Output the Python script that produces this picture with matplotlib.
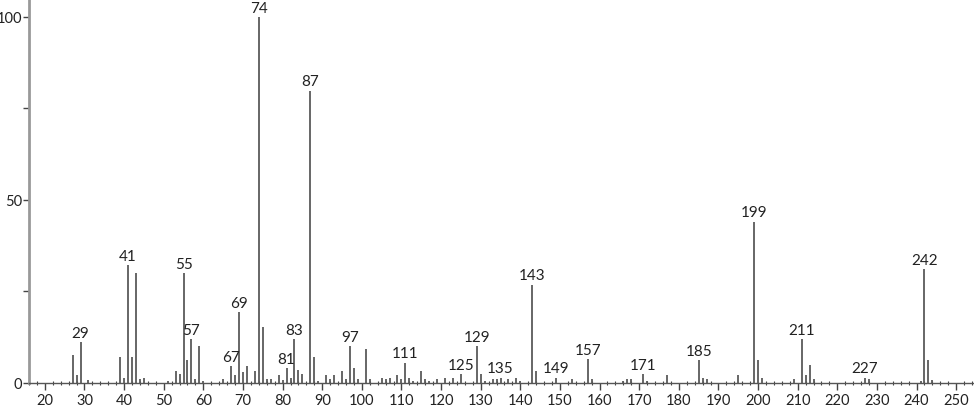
import numpy as np
import matplotlib.pyplot as plt
from matplotlib.ticker import MultipleLocator

plt.rcParams['font.family'] = ['Lato', 'DejaVu Sans']

# m/z and relative intensity
mz = [27, 28, 29, 31, 39, 40, 41, 42, 43, 44, 45, 51, 53, 54, 55, 56, 57, 58, 59, 60,
      65, 67, 68, 69, 70, 71, 73, 74, 75, 76, 77, 79, 80, 81, 82, 83, 84, 85, 87, 88,
      89, 91, 92, 93, 95, 96, 97, 98, 99, 101, 102, 105, 106, 107, 109, 110, 111, 112,
      113, 115, 116, 117, 119, 121, 123, 125, 129, 130, 131, 133, 134, 135, 137, 139,
      140, 143, 144, 149, 153, 157, 158, 166, 167, 168, 171, 172, 177, 185, 186, 187,
      195, 199, 200, 201, 209, 211, 212, 213, 214, 227, 228, 241, 242, 243, 244]
intensity = [7.7, 2.2, 11.3, 0.8, 7.2, 1.5, 32.1, 7.2, 30.0, 1.1, 1.5, 0.5, 3.2, 2.5, 30.0, 6.3, 12.0, 1.1, 10.2, 0.5,
             1.1, 4.6, 2.2, 19.3, 3.0, 4.6, 3.2, 100.0, 15.2, 1.1, 1.1, 2.2, 0.8, 4.1, 1.5, 12.0, 3.6, 2.5, 79.9, 7.2,
             0.5, 2.2, 1.1, 2.2, 3.2, 1.1, 10.0, 4.1, 1.1, 9.3, 1.1, 1.5, 1.1, 1.5, 2.2, 1.1, 5.6, 1.5,
             0.5, 3.2, 1.1, 0.5, 1.1, 1.5, 1.5, 2.5, 10.0, 2.5, 0.5, 1.1, 1.1, 1.5, 1.1, 1.5,
             0.5, 26.9, 3.2, 1.5, 1.1, 6.6, 1.1, 0.5, 1.1, 1.1, 2.5, 0.5, 2.2, 6.3, 1.5, 1.1,
             2.2, 44.1, 6.3, 1.5, 1.1, 12.0, 2.2, 5.0, 1.1, 1.5, 1.1, 0.5, 31.1, 6.3, 0.8]

labelled = [29, 41, 55, 57, 67, 69, 74, 81, 83, 87, 97, 111, 125, 129, 135, 143,
            149, 157, 171, 185, 199, 211, 227, 242]

fig = plt.figure(figsize=(9.74, 4.06), dpi=100)
ax = fig.add_axes([29 / 974, 22 / 406, 1 - 29 / 974, 384 / 406])

ax.vlines(mz, 0, intensity, colors='#5a5a5a', lw=1.3)

peaks = dict(zip(mz, intensity))
for m in labelled:
    ax.annotate(str(m), (m, peaks[m]), xytext=(0, 1.5), textcoords='offset points',
                ha='center', va='bottom', fontsize=11, color='#222222')

ax.set_xlim(16, 254.5)
ax.set_ylim(0, 104.9)

ax.set_xticks(np.arange(20, 251, 10))
ax.xaxis.set_minor_locator(MultipleLocator(2))
ax.set_yticks([0, 25, 50, 75, 100])
ax.set_yticklabels(['0', '', '50', '', '100'])

ax.tick_params(axis='x', which='major', direction='out', length=5, width=1, color='#444444',
               labelsize=10.5, labelcolor='#222222', pad=2)
ax.tick_params(axis='x', which='minor', direction='inout', length=3, width=0.8, color='#444444')
ax.tick_params(axis='y', direction='out', length=4, width=1, color='#444444',
               labelsize=10.5, labelcolor='#222222', pad=1)

for s in ['top', 'right']:
    ax.spines[s].set_visible(False)
ax.spines['left'].set_color('#999999')
ax.spines['left'].set_linewidth(2)
ax.spines['bottom'].set_color('#555555')
ax.spines['bottom'].set_linewidth(1)

fig.savefig('out.png', dpi=100)
